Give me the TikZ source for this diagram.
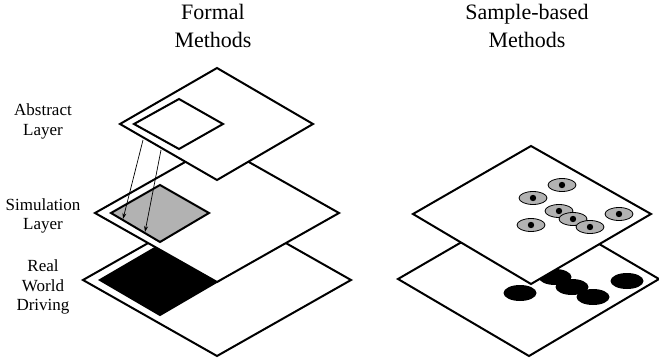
\documentclass[tikz,border=0pt]{standalone}
\usepackage{fontspec}
\setmainfont{Liberation Serif}
\usetikzlibrary{arrows.meta}

\begin{document}
\begin{tikzpicture}[x=1pt,y=-1pt,
  sheet/.style={draw, line width=2pt, fill=white},
  patch/.style={draw, line width=2pt},
  sample/.style={draw, line width=0.8pt, fill=black!30},
  title/.style={align=center, inner sep=0pt, font=\fontsize{22}{28}\selectfont},
  side/.style={align=center, inner sep=0pt, font=\fontsize{17}{19.5}\selectfont}]
\useasboundingbox (0,0) rectangle (659,364);
% titles
\node[title] (formal) at (213,25.5) {Formal\\Methods};
\node[title] (sampled) at (527,25.5) {Sample-based\\Methods};
% left: formal methods
\draw[sheet] (83,280) -- (217,204) -- (351,280) -- (217,356) -- cycle;
\draw[patch, fill=black] (100,280) -- (160,245) -- (220,280) -- (160,315) -- cycle;
\draw[sheet] (95,213) -- (217,144) -- (339,213) -- (217,282) -- cycle;
\draw[patch, fill=black!30] (111,213) -- (160,185) -- (209,213) -- (160,242) -- cycle;
\draw[sheet] (120,124) -- (217,68) -- (313,124) -- (217,180) -- cycle;
\draw[patch] (134,124) -- (179,99) -- (223,124) -- (179,149) -- cycle;
\coordinate (abs1) at (143,140);
\coordinate (abs2) at (161,150);
\coordinate (sim1) at (123,219);
\coordinate (sim2) at (145,232);
\draw[-{Stealth[length=6pt,width=4pt]}, line width=0.7pt] (abs1) -- (sim1);
\draw[-{Stealth[length=6pt,width=4pt]}, line width=0.7pt] (abs2) -- (sim2);
\node[side] (abstract) at (43,121.5) {Abstract\\Layer};
\node[side] (simulation) at (43,216) {Simulation\\Layer};
\node[side] (real) at (43,287) {Real\\World\\Driving};
% right: sample-based methods
\draw[sheet] (398,279) -- (529,203) -- (659,279) -- (529,356) -- cycle;
\foreach \x/\y in {520/293, 555/277, 572/287, 593/297, 627/281}
  \fill (\x,\y) ellipse (16.5pt and 8pt);
\draw[sheet] (413,214) -- (531,146) -- (651,214) -- (531,284) -- cycle;
\foreach \x/\y in {562/185, 533/198, 559/211, 573/219, 590/227, 531/225, 619/214} {
  \draw[sample] (\x,\y) ellipse (14pt and 6.5pt);
  \fill (\x,\y) circle (3.2pt);
}
\end{tikzpicture}
\end{document}
